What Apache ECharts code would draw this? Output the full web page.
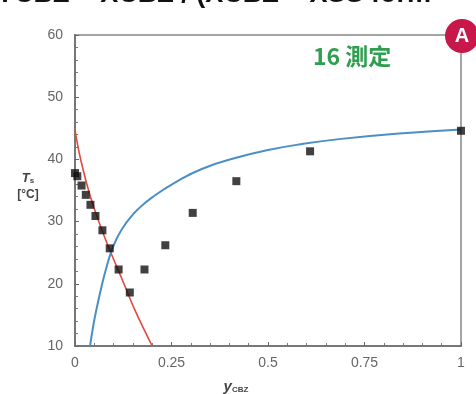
<!DOCTYPE html>
<html><head><meta charset="utf-8">
<script src="https://cdn.jsdelivr.net/npm/echarts@6/dist/echarts.min.js"></script>
<style>html,body{margin:0;padding:0;background:#fff}#c{width:476px;height:394px}</style>
</head><body><div id="c"></div>
<script>
// Measured points (y_CBZ, Ts)
const measX = [0.0, 0.006, 0.017, 0.028, 0.04, 0.053, 0.071, 0.09, 0.113, 0.142, 0.18, 0.234, 0.305, 0.418, 0.609, 1.0];
const measT = [37.8, 37.3, 35.8, 34.3, 32.7, 30.9, 28.6, 25.7, 22.3, 18.6, 22.3, 26.2, 31.4, 36.5, 41.3, 44.6];
// Red curve
const redX = [0.0, 0.015, 0.04, 0.07, 0.093, 0.125, 0.155, 0.2];
const redT = [44.7, 39.9, 34.0, 28.6, 25.0, 20.3, 15.8, 10.0];
// Blue curve
const blueX = [0.039, 0.048, 0.058, 0.07, 0.08, 0.092, 0.106, 0.121, 0.14, 0.165, 0.2, 0.26, 0.33, 0.42, 0.5, 0.58, 0.69, 0.85, 1.0];
const blueT = [10.0, 13.5, 16.6, 19.9, 22.3, 24.8, 27.0, 28.7, 30.4, 32.1, 33.9, 36.3, 38.5, 40.3, 41.5, 42.4, 43.3, 44.2, 44.8];
const xTicks = [0, 0.25, 0.5, 0.75, 1];
const yTicks = [10, 20, 30, 40, 50, 60];

const chart = echarts.init(document.getElementById('c'));
const zip = (a, b) => a.map((v, i) => [v, b[i]]);
const labelFont = {color: '#666', fontSize: 14, fontFamily: 'Liberation Sans, Arial'};
chart.setOption({
  animation: false,
  grid: {left: 75, top: 35, right: 15, bottom: 48, show: true, borderColor: '#888', borderWidth: 1.5},
  xAxis: {
    type: 'value', min: 0, max: 1, interval: 0.25, splitNumber: 4,
    axisLine: {lineStyle: {color: '#777', width: 2}},
    axisTick: {inside: true, length: 4, lineStyle: {color: '#666'}},
    minorTick: {show: true, splitNumber: 5, length: 3, lineStyle: {color: '#777'}},
    splitLine: {show: false},
    axisLabel: Object.assign({margin: 10, formatter: v => xTicks.includes(v) ? String(v) : ''}, labelFont)
  },
  yAxis: {
    type: 'value', min: 10, max: 60, interval: 10,
    axisLine: {show: true, lineStyle: {color: '#777', width: 2}},
    axisTick: {show: true, inside: true, length: 4, lineStyle: {color: '#666'}},
    minorTick: {show: true, splitNumber: 5, length: 3, lineStyle: {color: '#777'}},
    splitLine: {show: false},
    axisLabel: Object.assign({margin: 12, formatter: v => yTicks.includes(v) ? String(v) : ''}, labelFont)
  },
  series: [
    {type: 'line', data: zip(redX, redT), smooth: 0.4, showSymbol: false, lineStyle: {color: '#e2493f', width: 1.6}, z: 2},
    {type: 'line', data: zip(blueX, blueT), smooth: 0.5, showSymbol: false, lineStyle: {color: '#4b8fc4', width: 2}, z: 2},
    {type: 'scatter', data: zip(measX, measT), symbol: 'rect', symbolSize: 8, itemStyle: {color: '#111'}, z: 3}
  ],
  graphic: [
    {type: 'text', left: -4, top: -19, style: {text: 'YCBZ = XCBZ / (XCBZ + XSS form', fill: '#111', font: 'bold 27px Liberation Sans, Arial'}},
    {type: 'circle', shape: {cx: 462, cy: 36, r: 17}, style: {fill: '#c8174a'}, z: 10},
    {type: 'text', x: 462, y: 36, style: {text: 'A', fill: '#fff', font: 'bold 20px Liberation Sans, Arial', align: 'center', verticalAlign: 'middle'}, z: 11},
    {type: 'text', x: 313, y: 56, style: {text: '16 測定', fill: '#2e9e4f', font: 'bold 23px "Noto Sans CJK SC", sans-serif', verticalAlign: 'middle'}},
    {type: 'text', x: 28, y: 178, style: {text: '{t|T}{s|s}', align: 'center', verticalAlign: 'middle', rich: {t: {font: 'italic bold 13px Liberation Sans, Arial', fill: '#444'}, s: {font: 'bold 8px Liberation Sans, Arial', fill: '#444', padding: [6, 0, 0, 0]}}}},
    {type: 'text', x: 28, y: 195, style: {text: '[°C]', fill: '#444', font: 'bold 12px Liberation Sans, Arial', align: 'center', verticalAlign: 'middle'}},
    {type: 'text', x: 236, y: 387, style: {text: '{t|y}{s|CBZ}', align: 'center', verticalAlign: 'middle', rich: {t: {font: 'italic bold 15px Liberation Sans, Arial', fill: '#444'}, s: {font: 'bold 8px Liberation Sans, Arial', fill: '#444', padding: [6, 0, 0, 0]}}}}
  ]
});
</script></body></html>
